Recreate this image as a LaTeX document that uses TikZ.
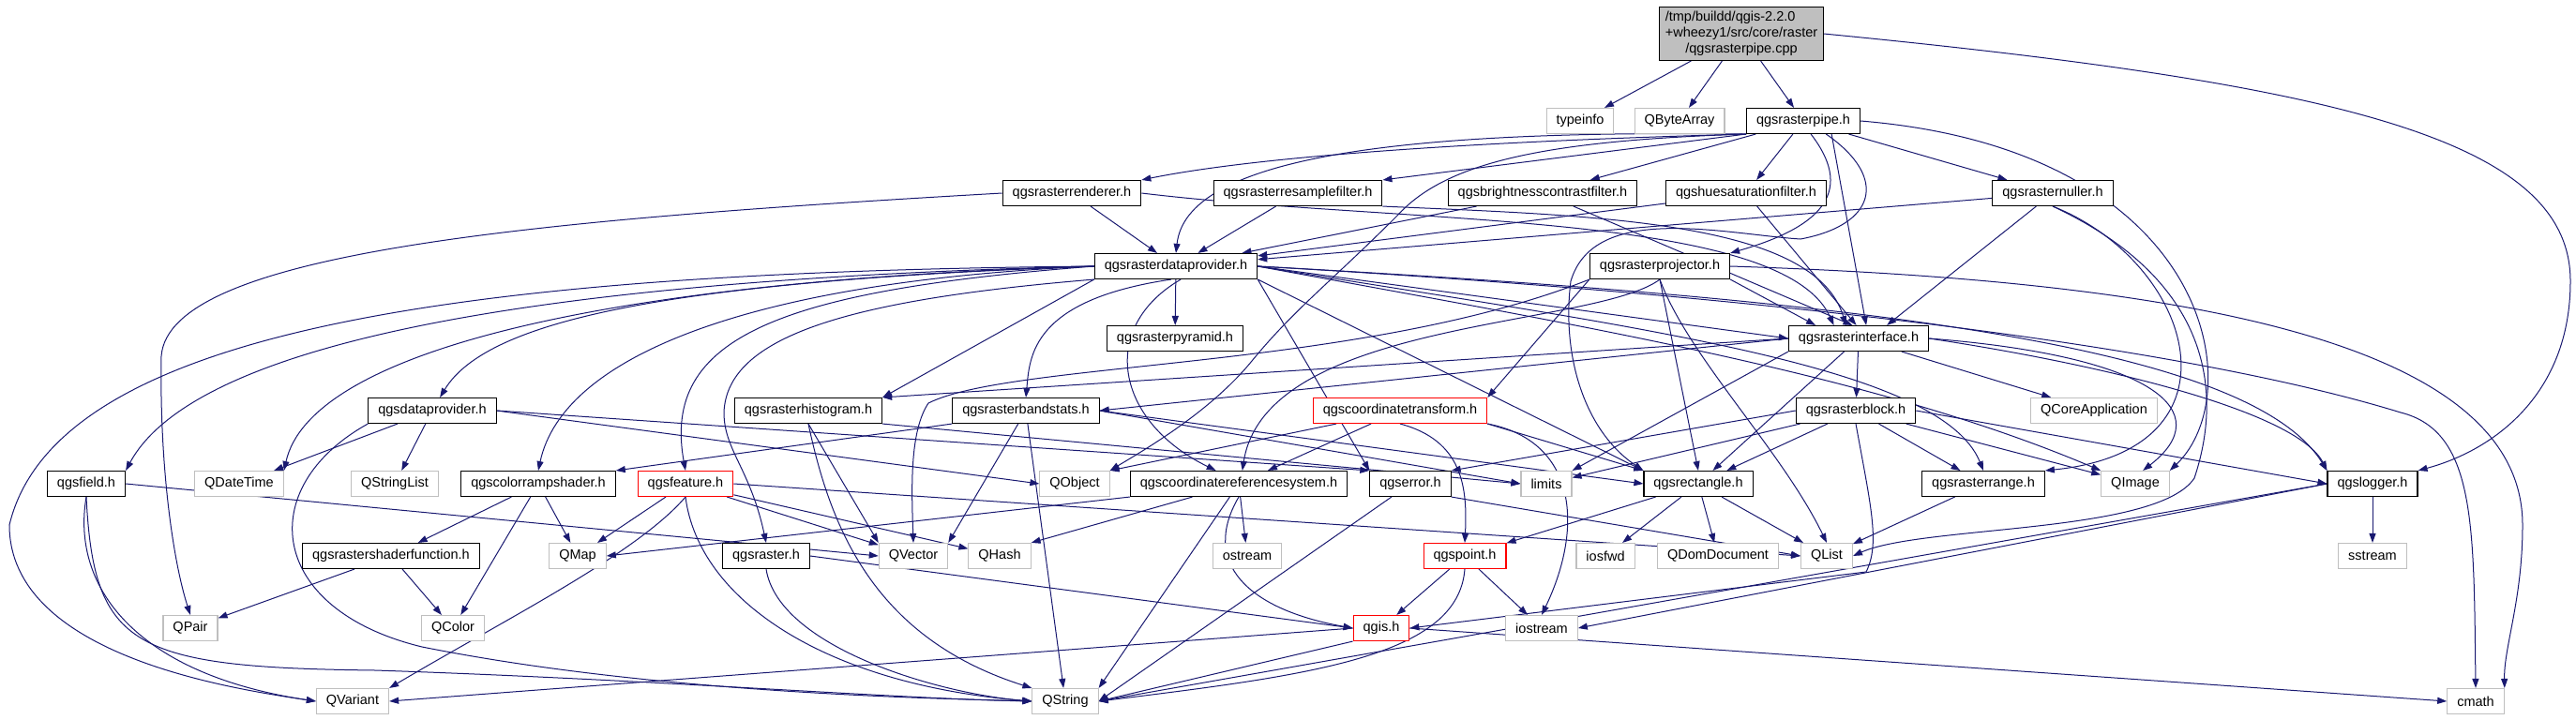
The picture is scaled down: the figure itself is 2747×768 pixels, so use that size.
\documentclass[tikz,border=0pt]{standalone}
\usepackage{fontspec}
\setmainfont{Liberation Sans}
\usetikzlibrary{arrows.meta}
\definecolor{edgeblue}{HTML}{191970}
\definecolor{sysgray}{HTML}{BFBFBF}
\pgfdeclarelayer{back}
\pgfsetlayers{back,main}

\begin{document}
\begin{tikzpicture}[x=1pt, y=-1pt,
    every node/.style={rectangle, draw, fill=white, line width=1.1pt, minimum height=27pt,
        inner ysep=0pt, inner xsep=10.5pt, font=\fontsize{14.5}{17}\selectfont},
    hdr/.style={draw=black},
    sys/.style={draw=sysgray},
    cut/.style={draw=red},
    rootbox/.style={draw=black, fill=sysgray, inner ysep=3pt, inner xsep=6pt},
    inc/.style={draw=edgeblue, line width=1pt, -{Triangle[length=10pt,width=7pt]}}
]
\useasboundingbox (0,0) rectangle (2747,768);

\node [rootbox] (root) at (1857,36) {\begin{tabular}{@{}l@{}}/tmp/buildd/qgis-2.2.0\\+wheezy1/src/core/raster\\\multicolumn{1}{@{}c@{}}{/qgsrasterpipe.cpp}\end{tabular}};

\node [sys] (typeinfo) at (1685,129) {typeinfo};
\node [sys] (qbytearray) at (1791,129) {QByteArray};
\node [hdr] (pipe) at (1923,129) {qgsrasterpipe.h};

\node [hdr] (renderer) at (1143,206) {qgsrasterrenderer.h};
\node [hdr] (resample) at (1384,206) {qgsrasterresamplefilter.h};
\node [hdr] (bright) at (1645,206) {qgsbrightnesscontrastfilter.h};
\node [hdr] (huesat) at (1862,206) {qgshuesaturationfilter.h};
\node [hdr] (nuller) at (2189,206) {qgsrasternuller.h};

\node [hdr] (rdp) at (1254,284) {qgsrasterdataprovider.h};
\node [hdr] (projector) at (1770,284) {qgsrasterprojector.h};

\node [hdr] (pyramid) at (1253,361) {qgsrasterpyramid.h};
\node [hdr] (iface) at (1982,361) {qgsrasterinterface.h};

\node [hdr] (dprov) at (461,438) {qgsdataprovider.h};
\node [hdr] (histo) at (862,438) {qgsrasterhistogram.h};
\node [hdr] (bstats) at (1094,438) {qgsrasterbandstats.h};
\node [cut] (ctrans) at (1493,438) {qgscoordinatetransform.h};
\node [hdr] (block) at (1979,438) {qgsrasterblock.h};
\node [sys] (qcoreapp) at (2233,438) {QCoreApplication};

\node [hdr] (field) at (92,516) {qgsfield.h};
\node [sys] (qdatetime) at (255,516) {QDateTime};
\node [sys] (qstringlist) at (421,516) {QStringList};
\node [hdr] (cramp) at (574,516) {qgscolorrampshader.h};
\node [cut] (feature) at (731,516) {qgsfeature.h};
\node [sys] (qobject) at (1146,516) {QObject};
\node [hdr] (crs) at (1321,516) {qgscoordinatereferencesystem.h};
\node [hdr] (error) at (1504,516) {qgserror.h};
\node [sys] (limits) at (1649,516) {limits};
\node [hdr] (rect) at (1811,516) {qgsrectangle.h};
\node [hdr] (rrange) at (2115,516) {qgsrasterrange.h};
\node [sys] (qimage) at (2277,516) {QImage};
\node [hdr] (logger) at (2530,516) {qgslogger.h};

\node [hdr] (shaderfn) at (417,593) {qgsrastershaderfunction.h};
\node [sys] (qmap) at (616,593) {QMap};
\node [hdr] (raster) at (817,593) {qgsraster.h};
\node [sys] (qvector) at (974,593) {QVector};
\node [sys] (qhash) at (1066,593) {QHash};
\node [sys] (ostream) at (1330,593) {ostream};
\node [cut] (point) at (1562,593) {qgspoint.h};
\node [sys] (iosfwd) at (1712,593) {iosfwd};
\node [sys] (qdomdoc) at (1832,593) {QDomDocument};
\node [sys] (qlist) at (1948,593) {QList};
\node [sys] (sstream) at (2530,593) {sstream};

\node [sys] (qpair) at (203,670) {QPair};
\node [sys] (qcolor) at (483,670) {QColor};
\node [cut] (qgis) at (1473,670) {qgis.h};
\node [sys] (iostream) at (1644,670) {iostream};

\node [sys] (qvariant) at (376,748) {QVariant};
\node [sys] (qstring) at (1136,748) {QString};
\node [sys] (cmath) at (2640,748) {cmath};

\begin{pgfonlayer}{back}
\draw [inc] (root) -- (typeinfo);
\draw [inc] (root) -- (qbytearray);
\draw [inc] (root) -- (pipe);
\draw [inc] (root.east) .. controls (2500,90) and (2741,150) .. (2741,300) .. controls (2741,420) and (2660,480) .. (logger.north east);

\draw [inc] (pipe.south west) .. controls (1600,150) and (1350,165) .. (renderer.north east);
\draw [inc] (pipe.south west) -- (resample.north east);
\draw [inc] (pipe) -- (bright);
\draw [inc] (pipe) -- (huesat);
\draw [inc] (pipe) -- (nuller);
\draw [inc] (pipe.south west) .. controls (1480,138) and (1265,170) .. (rdp.north);
\draw [inc] (pipe.south west) .. controls (1640,150) and (1540,175) .. (1490,230) .. controls (1420,300) and (1380,330) .. (1335,385) .. controls (1290,440) and (1220,480) .. (qobject.north east);
\draw [inc] (pipe.-60) .. controls (1975,200) and (1950,240) .. (projector.north east);
\draw [inc] (pipe.-25) -- (iface.60);
\draw [inc] (pipe.-30) .. controls (2015,190) and (2000,240) .. (1920,255) .. controls (1840,250) and (1700,215) .. (1675,300) .. controls (1665,380) and (1690,460) .. (rect.north west);
\draw [inc] (pipe.east) .. controls (2360,160) and (2400,420) .. (qimage.north east);

\draw [inc] (renderer) -- (rdp);
\draw [inc] (renderer.east) .. controls (1500,240) and (1900,225) .. (iface.152);
\draw [inc] (renderer.west) .. controls (560,235) and (180,270) .. (172,380) .. controls (170,500) and (185,600) .. (qpair.north);
\draw [inc] (resample) -- (rdp);
\draw [inc] (resample.south east) .. controls (1700,230) and (1935,235) .. (iface.134);
\draw [inc] (bright) -- (rdp);
\draw [inc] (bright) -- (iface.115);
\draw [inc] (huesat) -- (rdp);
\draw [inc] (huesat) -- (iface.100);
\draw [inc] (nuller) -- (rdp);
\draw [inc] (nuller) -- (iface.25);
\draw [inc] (nuller.south) .. controls (2340,280) and (2400,480) .. (rrange.north east);
\draw [inc] (nuller.south) .. controls (2360,300) and (2370,420) .. (2340,510) .. controls (2300,570) and (2050,560) .. (qlist.east);

\draw [inc] (rdp.west) .. controls (500,290) and (60,350) .. (10,560) .. controls (10,700) and (250,735) .. (qvariant.west);
\draw [inc] (rdp.west) .. controls (500,300) and (200,380) .. (field.north east);
\draw [inc] (rdp.west) .. controls (620,300) and (330,380) .. (qdatetime.north east);
\draw [inc] (rdp.west) .. controls (720,300) and (520,340) .. (dprov.60);
\draw [inc] (rdp.west) .. controls (800,300) and (600,380) .. (cramp.north);
\draw [inc] (rdp.west) .. controls (830,310) and (705,360) .. (feature.north);
\draw [inc] (rdp.south west) .. controls (900,320) and (775,360) .. (772,440) .. controls (772,480) and (800,500) .. (raster.north);
\draw [inc] (rdp.south west) -- (histo.north east);
\draw [inc] (rdp.250) .. controls (1100,320) and (1098,380) .. (bstats.north);
\draw [inc] (rdp) -- (pyramid);
\draw [inc] (rdp.290) .. controls (1170,350) and (1190,450) .. (crs.150);
\draw [inc] (rdp.south east) -- (error.north west);
\draw [inc] (rdp.south east) -- (rect.north west);
\draw [inc] (rdp.east) -- (iface.west);
\draw [inc] (rdp.east) .. controls (1750,350) and (2070,390) .. (rrange.north);
\draw [inc] (rdp.east) .. controls (1700,350) and (2000,400) .. (qimage.north west);
\draw [inc] (rdp.east) .. controls (2000,320) and (2400,370) .. (logger.north west);
\draw [inc] (rdp.east) .. controls (1800,310) and (2300,360) .. (2560,440) .. controls (2640,460) and (2638,560) .. (cmath.north);

\draw [inc] (projector.east) .. controls (2350,300) and (2690,370) .. (2690,560) .. controls (2690,640) and (2670,690) .. (cmath.north east);
\draw [inc] (projector.south west) .. controls (1450,395) and (1080,385) .. (990,430) .. controls (970,460) and (972,520) .. (qvector.north);
\draw [inc] (projector.south) .. controls (1800,380) and (1900,480) .. (qlist.north);
\draw [inc] (projector.south) -- (rect.north);
\draw [inc] (projector.south) .. controls (1700,350) and (1350,340) .. (crs.75);
\draw [inc] (projector.south west) -- (ctrans.north east);
\draw [inc] (projector.south east) -- (iface.163);

\draw [inc] (iface.west) -- (histo.north east);
\draw [inc] (iface.west) -- (bstats.east);
\draw [inc] (iface.south west) -- (limits.north east);
\draw [inc] (iface) -- (rect);
\draw [inc] (iface) -- (block);
\draw [inc] (iface) -- (qcoreapp);
\draw [inc] (iface.east) .. controls (2300,380) and (2365,440) .. (qimage.60);
\draw [inc] (iface.east) .. controls (2250,390) and (2450,440) .. (logger.north west);

\draw [inc] (block.west) -- (error.north east);
\draw [inc] (block) -- (limits);
\draw [inc] (block) -- (rect);
\draw [inc] (block) -- (rrange);
\draw [inc] (block) -- (qimage);
\draw [inc] (block.east) -- (logger.west);
\draw [inc] (block.south) .. controls (1995,540) and (2005,580) .. (1990,610) -- (qgis.east);

\draw [inc] (dprov) -- (qdatetime);
\draw [inc] (dprov) -- (qstringlist);
\draw [inc] (dprov.east) -- (qobject.west);
\draw [inc] (dprov.east) -- (error.north west);
\draw [inc] (dprov.south west) .. controls (270,520) and (285,650) .. (450,690) .. controls (700,740) and (1000,745) .. (qstring.west);

\draw [inc] (histo.south) -- (qvector.north west);
\draw [inc] (histo.south) .. controls (885,560) and (930,680) .. (qstring.north west);
\draw [inc] (histo.south east) -- (limits.west);
\draw [inc] (bstats.south west) -- (cramp.north east);
\draw [inc] (bstats) -- (qstring);
\draw [inc] (bstats) -- (qvector.north east);
\draw [inc] (bstats.east) -- (limits.west);
\draw [inc] (bstats.east) -- (rect.west);

\draw [inc] (ctrans) -- (qobject.north east);
\draw [inc] (ctrans) -- (crs);
\draw [inc] (ctrans.south) .. controls (1560,470) and (1565,520) .. (point.north);
\draw [inc] (ctrans.south east) -- (rect.north west);
\draw [inc] (ctrans.south east) .. controls (1680,470) and (1690,560) .. (iostream.north);

\draw [inc] (cramp) -- (shaderfn);
\draw [inc] (cramp) -- (qmap);
\draw [inc] (cramp) -- (qcolor);
\draw [inc] (shaderfn) -- (qpair);
\draw [inc] (shaderfn) -- (qcolor);

\draw [inc] (feature) -- (qmap);
\draw [inc] (feature.south) .. controls (680,590) and (540,660) .. (qvariant.north east);
\draw [inc] (feature.south) .. controls (745,640) and (880,730) .. (qstring.west);
\draw [inc] (feature) -- (qvector);
\draw [inc] (feature) -- (qhash);
\draw [inc] (feature.east) -- (qlist.west);

\draw [inc] (field.east) -- (qvector.west);
\draw [inc] (field.south) .. controls (75,630) and (150,720) .. (qvariant.west);
\draw [inc] (field.south) .. controls (100,690) and (140,712) .. (400,715) .. controls (700,725) and (950,745) .. (qstring.west);

\draw [inc] (raster.south) .. controls (830,690) and (1000,740) .. (qstring.west);
\draw [inc] (raster.east) -- (qgis.west);

\draw [inc] (crs.south west) -- (qmap.east);
\draw [inc] (crs) -- (qhash.north east);
\draw [inc] (crs) -- (ostream);
\draw [inc] (crs) -- (qstring.north east);
\draw [inc] (crs.south) .. controls (1280,600) and (1330,650) .. (qgis.west);

\draw [inc] (error) -- (qstring.east);
\draw [inc] (error.south east) -- (qlist.west);

\draw [inc] (rect) -- (point);
\draw [inc] (rect) -- (iosfwd);
\draw [inc] (rect) -- (qdomdoc);
\draw [inc] (rect) -- (qlist);
\draw [inc] (rrange) -- (qlist);

\draw [inc] (logger) -- (sstream);
\draw [inc] (logger.west) -- (iostream.east);
\draw [inc] (logger.west) -- (qstring.east);

\draw [inc] (point) -- (qgis);
\draw [inc] (point) -- (iostream);
\draw [inc] (point.south) .. controls (1555,700) and (1400,720) .. (qstring.east);

\draw [inc] (qgis.west) -- (qvariant.east);
\draw [inc] (qgis.south west) -- (qstring.east);
\draw [inc] (qgis.east) -- (cmath.west);
\end{pgfonlayer}

\end{tikzpicture}
\end{document}
